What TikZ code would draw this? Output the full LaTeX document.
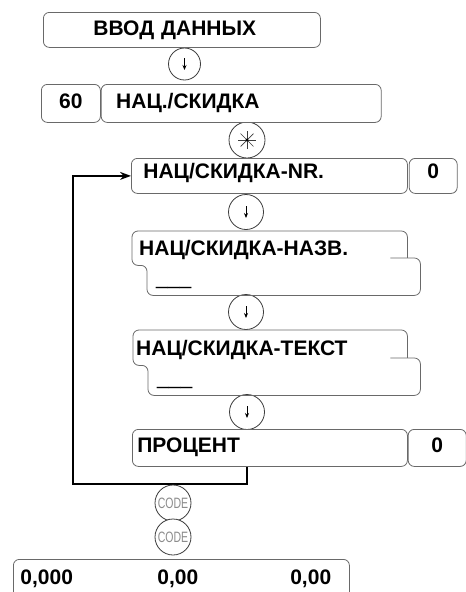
\documentclass[tikz,border=0pt]{standalone}
\usepackage{fontspec}
\setmainfont{Liberation Sans}
\usepackage{graphicx}
\usetikzlibrary{positioning,arrows.meta}
\definecolor{boxgray}{RGB}{105,105,105}
\definecolor{keygray}{RGB}{60,60,60}
\definecolor{codegray}{RGB}{140,140,140}

\begin{document}
\begin{tikzpicture}[x=1pt,y=-1pt,
        frame/.style={draw=boxgray,line width=0.8pt,rounded corners=6pt},
        plain/.style={anchor=north west,inner ysep=0pt,align=left,text height=15pt,text depth=5pt,font=\fontsize{21}{24}\selectfont\bfseries},
        field/.style={plain,frame,fill=white},
        key/.style={circle,draw=keygray,line width=0.8pt,fill=white,minimum size=35pt,inner sep=0pt},
        keyarrow/.style={-{Stealth[length=5pt,width=4pt]},line width=1pt},
        spoke/.style={draw=keygray,line width=0.7pt},
        loopline/.style={line width=1.3pt,-{Stealth[length=11pt,width=8pt]}}]
        \useasboundingbox (0,0) rectangle (466,592);
        \clip (0,0) rectangle (466,592);
        \node[key,minimum size=32pt] (k1) at (184.5,64) {};
        \node[key,minimum size=36pt] (k2) at (247,140) {};
        \node[key] (k3) at (246,212) {};
        \node[key] (k4) at (246,312) {};
        \node[key] (k5) at (247,412) {};
        \draw[keyarrow] ([yshift=6pt]k1.center) -- ([yshift=-6pt]k1.center);
        \draw[keyarrow] ([yshift=6pt]k3.center) -- ([yshift=-6pt]k3.center);
        \draw[keyarrow] ([yshift=6pt]k4.center) -- ([yshift=-6pt]k4.center);
        \draw[keyarrow] ([yshift=6pt]k5.center) -- ([yshift=-6pt]k5.center);
        \draw[spoke] ([xshift=-9pt]k2.center) -- ([xshift=9pt]k2.center);
        \draw[spoke] ([yshift=-9pt]k2.center) -- ([yshift=9pt]k2.center);
        \draw[spoke] ([shift={(-6.4pt,-6.4pt)}]k2.center) -- ([shift={(6.4pt,6.4pt)}]k2.center);
        \draw[spoke] ([shift={(-6.4pt,6.4pt)}]k2.center) -- ([shift={(6.4pt,-6.4pt)}]k2.center);
        \fill (k2.center) circle (1.6pt);
        \node[field,minimum width=277pt,minimum height=35pt,inner xsep=50pt,text width=177pt,text depth=3pt] (entry) at (43,12) {ВВОД ДАННЫХ};
        \node[field,minimum width=59pt,minimum height=38pt,inner xsep=0pt] (sixty) at (41,84) {60};
        \node[field,right=0pt of sixty,minimum width=280pt,minimum height=38pt,inner xsep=15pt,text width=250pt] (nac) {НАЦ./СКИДКА};
        \node[field,minimum width=276pt,minimum height=35pt,inner xsep=12pt,text width=252pt,text depth=10pt] (nr) at (131,158) {НАЦ/СКИДКА-NR.};
        \node[field,right=1pt of nr,minimum width=48pt,minimum height=35pt,inner xsep=0pt,text depth=10pt] (nrval) {0};
        \node[plain,minimum width=275pt,minimum height=34pt,inner xsep=7pt,text width=261pt,text depth=1pt] (nazv) at (132,231) {НАЦ/СКИДКА-НАЗВ.};
        \node[plain,font=\fontsize{21}{24}\selectfont,minimum width=273pt,minimum height=37pt,inner xsep=9pt,text width=255pt,text depth=0pt] (nazvin) at (147,258) {\_\_\_};
        \draw[frame] (nazv.east |- nazvin.north) -- (nazv.north east) -- (nazv.north west) -- (nazv.south west) -- (nazv.south -| nazvin.west) -- (nazvin.south west) -- (nazvin.south east) -- (nazvin.north east) -- ([xshift=-30pt]nazvin.north east);
        \node[plain,minimum width=274pt,minimum height=35pt,inner xsep=3pt,text width=268pt,text depth=0pt] (tekst) at (133,330) {НАЦ/СКИДКА-ТЕКСТ};
        \node[plain,font=\fontsize{21}{24}\selectfont,minimum width=272pt,minimum height=37pt,inner xsep=9pt,text width=254pt,text depth=0pt] (tekstin) at (148,358) {\_\_\_};
        \draw[frame] (tekst.east |- tekstin.north) -- (tekst.north east) -- (tekst.north west) -- (tekst.south west) -- (tekst.south -| tekstin.west) -- (tekstin.south west) -- (tekstin.south east) -- (tekstin.north east) -- ([xshift=-30pt]tekstin.north east);
        \node[field,minimum width=275pt,minimum height=37pt,inner xsep=5pt,text width=265pt,text depth=6pt] (proc) at (132,429) {ПРОЦЕНТ};
        \node[field,right=0pt of proc,minimum width=58pt,minimum height=37pt,inner xsep=0pt,text depth=6pt] (procval) {0};
        \coordinate (turn) at (73,484);
        \draw[loopline] (k5 |- proc.south) |- (turn) |- (nr.west);
        \node[key,minimum size=36pt,text=codegray,font=\fontsize{15}{15}\selectfont] (code1) at (173,503) {\scalebox{0.7}[1]{CODE}};
        \node[key,minimum size=36pt,text=codegray,font=\fontsize{15}{15}\selectfont] (code2) at (173,537) {\scalebox{0.7}[1]{CODE}};
        \node[field,minimum width=336pt,minimum height=46pt,inner xsep=7pt,text width=322pt,text depth=10pt] (total) at (13,559) {0,000\hspace{84.5pt}0,00\hspace{92pt}0,00};
    \end{tikzpicture}
\end{document}
